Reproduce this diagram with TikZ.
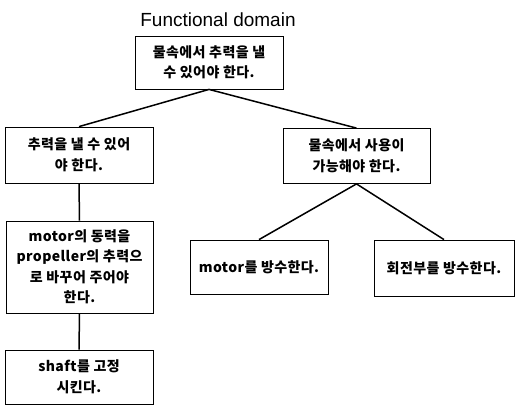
\documentclass[tikz,border=0pt]{standalone}
\usepackage{fontspec}
\setmainfont{Liberation Sans}
\newfontfamily\kr[LetterSpace=3]{Noto Sans CJK KR}
\begin{document}
\begin{tikzpicture}[x=1pt,y=-1pt,
  box/.style={draw,line width=0.8pt,align=center,inner sep=0pt,
    font=\kr\bfseries\fontsize{14}{20.5}\selectfont},
  link/.style={line width=1.5pt}]
\useasboundingbox (0,0) rectangle (515,407);
\node[font=\fontsize{19}{22}\selectfont] (title) at (218,20) {Functional domain};
\node[box,minimum width=148pt,minimum height=53pt] (top) at (209,62.5) {물속에서 추력을 낼\\수 있어야 한다.};
\node[box,minimum width=148pt,minimum height=56pt] (n1) at (79,155) {추력을 낼 수 있어\\야 한다.};
\node[box,minimum width=147pt,minimum height=55pt] (n2) at (356.5,156) {물속에서 사용이\\가능해야 한다.};
\node[box,minimum width=147pt,minimum height=92pt] (n3) at (79.5,267) {motor의 동력을\\propeller의 추력으\\로 바꾸어 주어야\\한다.};
\node[box,minimum width=148pt,minimum height=54pt] (n4) at (79,377) {shaft를 고정\\시킨다.};
\node[box,minimum width=138pt,minimum height=54pt] (n5) at (259,267) {motor를 방수한다.};
\node[box,minimum width=140pt,minimum height=56pt] (n6) at (444,268) {회전부를 방수한다.};
\draw[link] (top.south) -- (n1.north);
\draw[link] (top.south) -- (n2.north);
\draw[link] (n1.south) -- (n3.north);
\draw[link] (n3.south) -- (n4.north);
\draw[link] (n2.south) -- (n5.north);
\draw[link] (n2.south) -- (n6.north);
\end{tikzpicture}
\end{document}
